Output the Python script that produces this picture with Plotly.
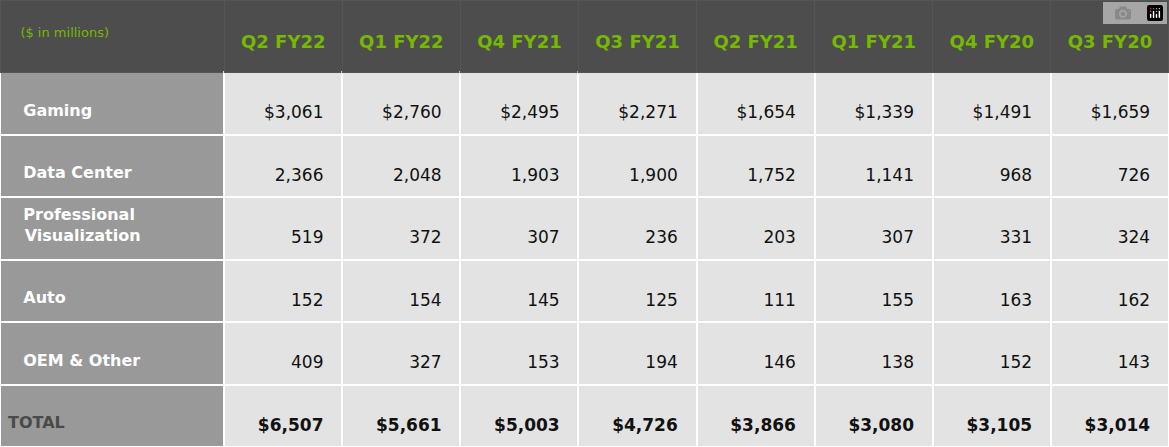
import plotly.graph_objects as go

quarters = ["Q2 FY22", "Q1 FY22", "Q4 FY21", "Q3 FY21", "Q2 FY21", "Q1 FY21", "Q4 FY20", "Q3 FY20"]
segments = ["Gaming", "Data Center", "Professional<br>Visualization", "Auto", "OEM & Other"]
gaming = [3061, 2760, 2495, 2271, 1654, 1339, 1491, 1659]
data_center = [2366, 2048, 1903, 1900, 1752, 1141, 968, 726]
pro_vis = [519, 372, 307, 236, 203, 307, 331, 324]
auto = [152, 154, 145, 125, 111, 155, 163, 162]
oem_other = [409, 327, 153, 194, 146, 138, 152, 143]
total = [6507, 5661, 5003, 4726, 3866, 3080, 3105, 3014]

rows = [gaming, data_center, pro_vis, auto, oem_other]
NB = "\u00a0"
PAD = NB + "<br>"  # push single-line text down toward vertical middle


def lab(s):
    if "<br>" in s:
        return NB * 3 + "<b>" + s.replace("<br>", "<br>" + NB * 3) + "</b>"
    return PAD + NB * 3 + "<b>" + s + "</b>"


label_col = [lab(s) for s in segments] + [PAD + "<b>TOTAL</b>"]
cols = [label_col]
for i in range(len(quarters)):
    col = []
    for r, series in enumerate(rows):
        v = series[i]
        col.append(PAD + ("$" if r == 0 else "") + f"{v:,}" + NB * 2)
    col.append(PAD + f"<b>${total[i]:,}</b>" + NB * 2)
    cols.append(col)

header_vals = [NB + "<br>" + NB * 3 + "($ in millions)"] + [NB + "<br><b>" + q + "</b>" for q in quarters]

fig = go.Figure(go.Table(
    columnwidth=[224] + [118] * 8,
    header=dict(
        values=header_vals,
        fill_color="#4d4d4d",
        line=dict(color="#555555", width=1),
        font=dict(family="DejaVu Sans", color="#76b900", size=[13] + [18] * 8),
        align=["left"] + ["center"] * 8,
        height=72,
    ),
    cells=dict(
        values=cols,
        fill_color=[["#999999"] * 6] + [["#e3e3e3"] * 6] * 8,
        line=dict(color="#ffffff", width=2),
        font=dict(family="DejaVu Sans", size=[16] + [17] * 8,
                  color=[["#ffffff"] * 5 + ["#4a4a4a"]] + [["#111111"] * 6] * 8),
        align=["left"] + ["right"] * 8,
        height=62.5,
    ),
))
fig.update_layout(width=1169, height=447, margin=dict(l=0, r=0, t=0, b=0),
                  paper_bgcolor="#ffffff")
fig.write_html("out.html", post_script="document.body.style.margin='0';")
